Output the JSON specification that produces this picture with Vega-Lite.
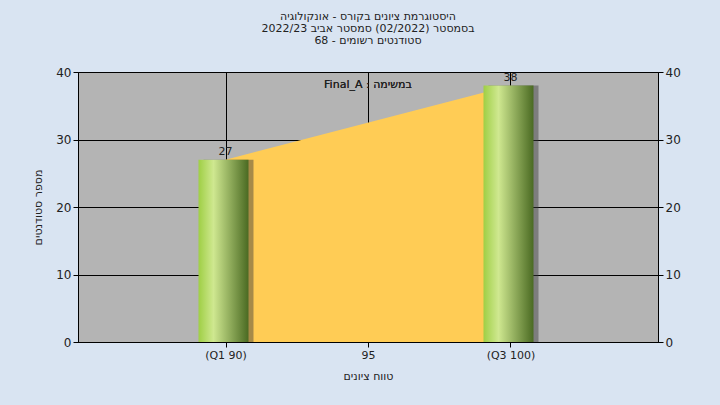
{
  "$schema": "https://vega.github.io/schema/vega-lite/v6.json",
  "width": 580,
  "height": 270,
  "autosize": "none",
  "padding": {"left": 78, "top": 72, "right": 62, "bottom": 63},
  "background": "#d9e4f2",
  "title": {
    "text": ["היסטוגרמת ציונים בקורס - אונקולוגיה", "בסמסטר  (02/2022)  סמסטר אביב 2022/23", "סטודנטים רשומים - 68"],
    "fontSize": 11, "fontWeight": "normal", "font": "DejaVu Sans", "color": "#222",
    "anchor": "middle", "offset": 20, "lineHeight": 12
  },
  "data": {"values": [
    {"grade": 90, "count": 27},
    {"grade": 100, "count": 38}
  ]},
  "encoding": {
    "x": {"field": "grade", "type": "quantitative",
      "scale": {"domain": [85, 105], "nice": false, "zero": false},
      "axis": {"values": [90, 95, 100], "title": "טווח ציונים", "grid": true, "gridColor": "black", "gridOpacity": 1,
        "labelExpr": "datum.value == 90 ? '(Q1 90)' : datum.value == 100 ? '(Q3 100)' : datum.label",
        "domainColor": "black", "tickColor": "black", "labelFont": "DejaVu Sans", "labelFontSize": 11, "labelColor": "#222",
        "titleFont": "DejaVu Sans", "titleFontSize": 11, "titleFontWeight": "normal", "titleColor": "#222", "titlePadding": 10}},
    "y": {"field": "count", "type": "quantitative", "scale": {"domain": [0, 40]}, "axis": null}
  },
  "layer": [
    {"mark": {"type": "area", "color": "#ffcc55", "opacity": 1},
      "encoding": {"y": {"field": "count", "type": "quantitative", "scale": {"domain": [0, 40]},
        "axis": {"values": [0, 10, 20, 30, 40], "title": "מספר סטודנטים", "grid": true, "gridColor": "black", "gridOpacity": 1,
          "domainColor": "black", "tickColor": "black", "labelFont": "DejaVu Sans", "labelFontSize": 12, "labelColor": "#222",
          "titleFont": "DejaVu Sans", "titleFontSize": 11, "titleFontWeight": "normal", "titleColor": "#222", "titlePadding": 12}}}},
    {"mark": {"type": "bar", "size": 50, "xOffset": 3, "color": "#3a3a3a", "opacity": 0.45}},
    {"mark": {"type": "bar", "size": 50, "xOffset": -2,
      "fill": {"x1": 0, "y1": 0, "x2": 1, "y2": 0, "gradient": "linear",
        "stops": [{"offset": 0, "color": "#9fcf45"}, {"offset": 0.3, "color": "#cfe890"}, {"offset": 1, "color": "#4a6a22"}]}},
      "encoding": {"y": {"field": "count", "type": "quantitative", "scale": {"domain": [0, 40]},
        "axis": {"orient": "right", "values": [0, 10, 20, 30, 40], "title": null, "grid": false,
          "domainColor": "black", "tickColor": "black", "labelFont": "DejaVu Sans", "labelFontSize": 12, "labelColor": "#222"}}}},
    {"mark": {"type": "text", "dy": -8, "font": "DejaVu Sans", "fontSize": 11, "color": "#222"},
      "encoding": {"text": {"field": "count", "type": "quantitative"}}},
    {"mark": {"type": "text", "font": "DejaVu Sans", "fontSize": 11, "color": "#222"},
      "encoding": {"x": {"datum": 95}, "y": {"datum": 38.1}, "text": {"value": "Final_A : במשימה"}}}
  ],
  "resolve": {"axis": {"y": "independent"}},
  "config": {"view": {"fill": "#b4b4b4", "stroke": "black"}}
}
